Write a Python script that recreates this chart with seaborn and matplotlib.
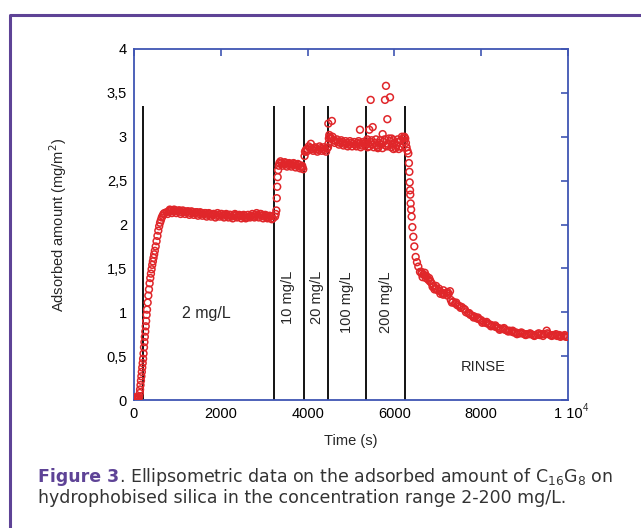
import matplotlib
matplotlib.use('Agg')
import matplotlib.pyplot as plt
import seaborn as sns
import pandas as pd
from matplotlib.lines import Line2D

# ---- data (time in s, adsorbed amount in mg/m2) ----
baseline_t = [0, 15, 30, 45, 60, 75, 90, 105, 120, 135]
baseline_v = [0.02, 0.03, 0.02, 0.01, 0.03, 0.02, 0.03, 0.02, 0.04, 0.08]

rise_t = [140, 150, 160, 170, 180, 190, 200, 210, 220, 230, 240, 250, 260, 270, 280,
          290, 300, 315, 330, 345, 360, 375, 390, 405, 420, 435, 450, 465, 480, 500,
          520, 540, 560, 580, 600, 620, 640, 660, 680, 700]
rise_v = [0.12, 0.17, 0.22, 0.27, 0.32, 0.37, 0.42, 0.47, 0.53, 0.60, 0.66, 0.72, 0.78,
          0.84, 0.90, 0.97, 1.03, 1.11, 1.19, 1.26, 1.33, 1.39, 1.44, 1.49, 1.54, 1.58,
          1.62, 1.66, 1.70, 1.75, 1.81, 1.87, 1.93, 1.98, 2.02, 2.05, 2.08, 2.10, 2.12, 2.13]

c2_t = [750, 800, 850, 900, 950, 1000, 1050, 1100, 1150, 1200, 1250, 1300, 1350, 1400,
        1450, 1500, 1550, 1600, 1650, 1700, 1750, 1800, 1850, 1900, 1950, 2000, 2050,
        2100, 2150, 2200, 2250, 2300, 2350, 2400, 2450, 2500, 2550, 2600, 2650, 2700,
        2750, 2800, 2850, 2900, 2950, 3000, 3050, 3100, 3150, 3200,
        775, 825, 875, 925, 975, 1025, 1075, 1125, 1175, 1225, 1275, 1325, 1375, 1425,
        1475, 1525, 1575, 1625, 1675, 1725, 1775, 1825, 1875, 1925, 1975, 2025, 2075,
        2125, 2175, 2225, 2275, 2325, 2375, 2425, 2475, 2525, 2575, 2625, 2675, 2725,
        2775, 2825, 2875, 2925, 2975, 3025, 3075, 3125, 3175]
c2_v = [2.14, 2.15, 2.16, 2.15, 2.16, 2.15, 2.16, 2.14, 2.15, 2.14, 2.15, 2.13, 2.14,
        2.13, 2.14, 2.12, 2.13, 2.12, 2.13, 2.11, 2.12, 2.11, 2.12, 2.10, 2.11, 2.12,
        2.10, 2.11, 2.10, 2.11, 2.09, 2.10, 2.11, 2.09, 2.10, 2.09, 2.10, 2.08, 2.09,
        2.10, 2.09, 2.11, 2.10, 2.12, 2.10, 2.09, 2.10, 2.08, 2.09, 2.07,
        2.12, 2.17, 2.13, 2.17, 2.13, 2.16, 2.12, 2.16, 2.12, 2.15, 2.11, 2.15, 2.11,
        2.14, 2.10, 2.14, 2.10, 2.13, 2.09, 2.13, 2.09, 2.12, 2.08, 2.13, 2.09, 2.12,
        2.08, 2.12, 2.08, 2.11, 2.07, 2.12, 2.08, 2.11, 2.07, 2.11, 2.07, 2.11, 2.08,
        2.12, 2.08, 2.13, 2.08, 2.12, 2.07, 2.11, 2.07, 2.10, 2.06]

c10_t = [3250, 3265, 3280, 3290, 3300, 3310, 3320, 3335, 3350, 3400, 3450, 3500, 3550,
         3600, 3650, 3700, 3750, 3800, 3850, 3880, 3900,
         3375, 3425, 3475, 3525, 3575, 3625, 3675, 3725, 3775, 3825, 3875]
c10_v = [2.09, 2.12, 2.16, 2.30, 2.43, 2.54, 2.62, 2.67, 2.70, 2.70, 2.69, 2.70, 2.68,
         2.69, 2.68, 2.69, 2.67, 2.68, 2.66, 2.65, 2.63,
         2.72, 2.67, 2.71, 2.66, 2.70, 2.66, 2.70, 2.65, 2.69, 2.64, 2.67]

c20_t = [3930, 3940, 3960, 4000, 4050, 4075, 4100, 4150, 4200, 4250, 4300, 4350, 4400,
         4450, 4470,
         3975, 4025, 4125, 4175, 4225, 4275, 4325, 4375, 4425]
c20_v = [2.78, 2.83, 2.85, 2.86, 2.87, 2.92, 2.86, 2.87, 2.86, 2.85, 2.87, 2.86, 2.85,
         2.87, 2.88,
         2.83, 2.89, 2.84, 2.88, 2.83, 2.89, 2.84, 2.88, 2.83]

c100_t = [4478, 4480, 4490, 4500, 4510, 4520, 4550, 4560, 4600, 4650, 4700, 4750, 4800,
          4850, 4900, 4950, 5000, 5050, 5100, 5150, 5200, 5207, 5250, 5300, 5340,
          4575, 4625, 4675, 4725, 4775, 4825, 4875, 4925, 4975, 5025, 5075, 5125, 5175,
          5225, 5275, 5325]
c100_v = [3.15, 2.92, 2.98, 3.02, 3.00, 2.99, 2.98, 3.18, 2.96, 2.95, 2.94, 2.93, 2.94,
          2.92, 2.93, 2.91, 2.93, 2.92, 2.91, 2.93, 2.92, 3.08, 2.90, 2.92, 2.93,
          3.00, 2.93, 2.97, 2.91, 2.96, 2.90, 2.95, 2.89, 2.95, 2.89, 2.94, 2.89, 2.95,
          2.88, 2.94, 2.90]

c200_t = [5350, 5380, 5400, 5422, 5450, 5453, 5500, 5500, 5550, 5600, 5620, 5650, 5700,
          5729, 5750, 5783, 5800, 5806, 5837, 5850, 5899, 5900, 5936, 5950, 5980, 6000,
          6050, 6100, 6100, 6150, 6180, 6200, 6230,
          5375, 5425, 5475, 5525, 5575, 5625, 5675, 5725, 5775, 5825, 5875, 5925, 5975,
          6025, 6075, 6125, 6175, 6225]
c200_v = [2.95, 2.88, 2.92, 3.08, 2.94, 3.42, 2.91, 3.11, 2.93, 2.90, 2.87, 2.93, 2.91,
          3.03, 2.94, 3.42, 2.90, 3.58, 3.20, 2.92, 3.45, 2.95, 2.98, 2.91, 2.86, 2.93,
          2.90, 2.94, 2.86, 2.96, 2.88, 2.98, 3.00,
          2.97, 2.89, 2.96, 2.88, 2.97, 2.88, 2.96, 2.87, 2.97, 2.89, 2.98, 2.88, 2.96,
          2.87, 2.97, 2.89, 3.00, 2.95]

rinse_t = [6250, 6265, 6280, 6300, 6321, 6335, 6345, 6352, 6360, 6366, 6374, 6385, 6397,
           6413, 6436, 6459, 6490, 6520, 6551, 6590, 6630, 6650, 6670, 6700, 6705, 6744,
           6780, 6800, 6820, 6859, 6880, 6900, 6950, 6960, 7000, 7050, 7060, 7100, 7130,
           7150, 7200, 7220, 7250, 7281, 7300, 7350, 7400, 7450, 7500, 7551, 7600, 7650,
           7700, 7750, 7800, 7850, 7900, 7950, 8000, 8050, 8100, 8150, 8200, 8250, 8300,
           8350, 8400, 8450, 8500, 8550, 8600, 8650, 8700, 8750, 8800, 8850, 8900, 8950,
           9000, 9050, 9100, 9150, 9200, 9250, 9300, 9350, 9400, 9450, 9509, 9550, 9600,
           9650, 9700, 9750, 9800, 9850, 9900, 9950, 9990,
           6625, 6725, 6825, 6925, 7025, 7125, 7225, 7325, 7425, 7525, 7625, 7725, 7825,
           7925, 8025, 8125, 8225, 8325, 8425, 8525, 8625, 8725, 8825, 8925, 9025, 9125,
           9225, 9325, 9425, 9525, 9625, 9725, 9825, 9925]
rinse_v = [2.98, 2.93, 2.88, 2.84, 2.81, 2.70, 2.60, 2.48, 2.39, 2.34, 2.24, 2.17, 2.09,
           1.97, 1.86, 1.75, 1.63, 1.57, 1.52, 1.46, 1.44, 1.40, 1.43, 1.45, 1.42, 1.41,
           1.37, 1.39, 1.35, 1.33, 1.29, 1.30, 1.27, 1.30, 1.25, 1.24, 1.21, 1.22, 1.25,
           1.21, 1.22, 1.19, 1.21, 1.24, 1.14, 1.12, 1.10, 1.08, 1.07, 1.06, 1.04, 1.00,
           0.99, 0.97, 0.96, 0.95, 0.93, 0.92, 0.91, 0.89, 0.88, 0.87, 0.86, 0.85, 0.84,
           0.83, 0.82, 0.81, 0.81, 0.80, 0.79, 0.79, 0.78, 0.77, 0.77, 0.76, 0.76, 0.76,
           0.75, 0.75, 0.75, 0.75, 0.74, 0.74, 0.75, 0.74, 0.75, 0.75, 0.79, 0.75, 0.74,
           0.74, 0.74, 0.73, 0.74, 0.73, 0.73, 0.72, 0.72,
           1.46, 1.39, 1.36, 1.26, 1.27, 1.20, 1.23, 1.11, 1.11, 1.05, 1.03, 0.99, 0.94,
           0.94, 0.88, 0.89, 0.84, 0.85, 0.80, 0.82, 0.78, 0.79, 0.75, 0.77, 0.74, 0.76,
           0.73, 0.76, 0.73, 0.76, 0.73, 0.75, 0.72, 0.74]

# injection times (vertical lines) and their labels
switch_times = [200, 3230, 3925, 4475, 5340, 6245]
conc_labels = ['10 mg/L', '20 mg/L', '100 mg/L', '200 mg/L']
conc_label_x = [3556, 4224, 4916, 5814]

x_ticks = [0, 2000, 4000, 6000, 8000, 10000]
x_ticklabels = ['0', '2000', '4000', '6000', '8000', '1 10']
y_ticks = [0, 0.5, 1, 1.5, 2, 2.5, 3, 3.5, 4]
y_ticklabels = ['0', '0,5', '1', '1,5', '2', '2,5', '3', '3,5', '4']


def main():
    df = pd.DataFrame({
        'time': baseline_t + rise_t + c2_t + c10_t + c20_t + c100_t + c200_t + rinse_t,
        'amount': baseline_v + rise_v + c2_v + c10_v + c20_v + c100_v + c200_v + rinse_v,
    })

    sns.set_style('white')
    plt.rcParams['font.family'] = ['Liberation Sans', 'DejaVu Sans']

    blue = '#3f55b3'
    red = '#e0262a'
    purple = '#5e4396'

    fig = plt.figure(figsize=(6.41, 5.28), dpi=100)
    ax = fig.add_axes([134 / 641, 1 - 400 / 528, 434 / 641, 351 / 528])

    sns.scatterplot(data=df, x='time', y='amount', ax=ax, marker='o', s=24,
                    facecolors='none', edgecolor=red, linewidth=1.1, legend=False, zorder=3)

    ax.vlines(switch_times, 0, 3.35, color='black', linewidth=1.3, zorder=2)

    ax.set_xlim(0, 10000)
    ax.set_ylim(0, 4)
    ax.set_xticks(x_ticks)
    ax.set_xticklabels(x_ticklabels)
    ax.set_yticks(y_ticks)
    ax.set_yticklabels(y_ticklabels)
    ax.tick_params(direction='in', length=5, width=1.2, color=blue, labelsize=10.5,
                   labelcolor='black', top=True, right=True, pad=5)
    for sp in ax.spines.values():
        sp.set_color(blue)
        sp.set_linewidth(1.3)

    # exponent of the last x tick label ("1 10^4")
    ax.annotate('4', xy=(1, 0), xycoords='axes fraction', xytext=(10.5, -2.5),
                textcoords='offset points', fontsize=7, ha='left', va='top')

    ax.set_xlabel('Time (s)', fontsize=10.5)
    ax.set_ylabel('Adsorbed amount (mg/m$^2$)', fontsize=10.5)
    ax.xaxis.set_label_coords(0.5, -0.097)
    ax.yaxis.set_label_coords(-0.15, 0.5)

    ax.text(1675, 0.99, '2 mg/L', fontsize=11.5, ha='center', va='center')
    for lab, xpos in zip(conc_labels, conc_label_x):
        ax.text(xpos, 1.47, lab, fontsize=10.5, rotation=90, ha='center', va='top')
    ax.text(8041, 0.376, 'RINSE', fontsize=10.5, ha='center', va='center')

    # purple frame
    fig.add_artist(Line2D([10 / 641, 10 / 641, 1.0], [0.0, 1 - 15 / 528, 1 - 15 / 528],
                          color=purple, linewidth=2.2, transform=fig.transFigure))

    # caption
    cap_font = ['DejaVu Sans']
    cap_size = 12.5
    t1 = fig.text(38 / 641, 1 - 482 / 528, 'Figure 3', fontsize=cap_size, fontweight='bold',
                  color=purple, family=cap_font, va='baseline')
    fig.canvas.draw()
    bb = t1.get_window_extent()
    x2 = bb.x1 / fig.bbox.width
    fig.text(x2, 1 - 482 / 528,
             '. Ellipsometric data on the adsorbed amount of C$_{16}$G$_{8}$ on',
             fontsize=cap_size, color='#333333', family=cap_font, va='baseline')
    fig.text(38 / 641, 1 - 503 / 528,
             'hydrophobised silica in the concentration range 2-200 mg/L.',
             fontsize=cap_size, color='#333333', family=cap_font, va='baseline')

    fig.savefig('out.png', dpi=100)


if __name__ == '__main__':
    main()
